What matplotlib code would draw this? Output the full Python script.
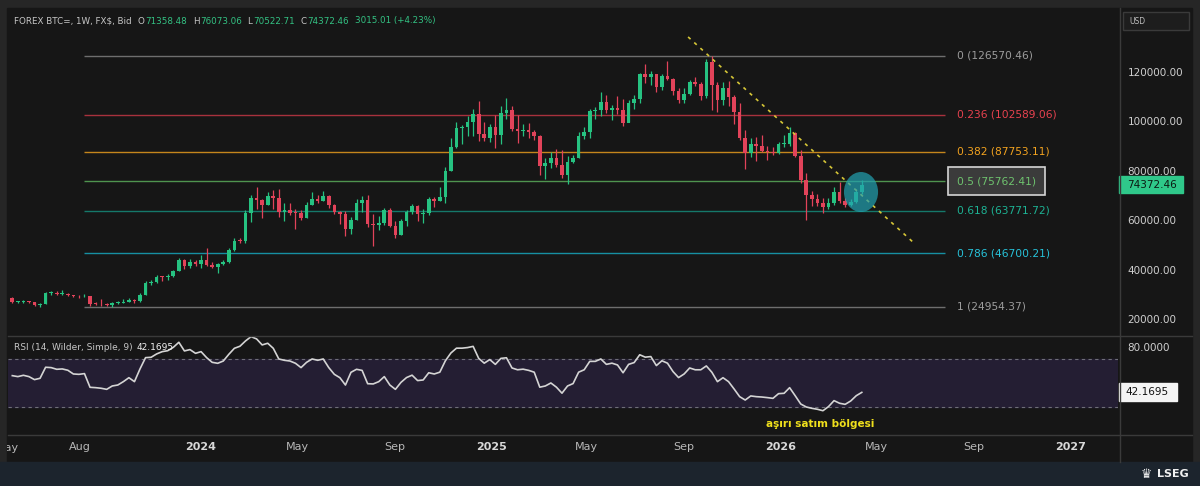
import matplotlib
matplotlib.use("Agg")
import matplotlib.pyplot as plt
import matplotlib.dates as mdates
import matplotlib.transforms as mtransforms
import numpy as np
import pandas as pd
from matplotlib.lines import Line2D
from matplotlib.patches import Ellipse, Rectangle

W, H = 1200, 486

# weekly BTC candles, values in thousand USD
first_week = "2023-05-08"
first_open = 28.5
closes = [
    26.8, 26.9, 27.2, 26.9, 25.7, 26.2, 30.5, 30.6, 30.3, 30.3,
    29.9, 29.3, 29.1, 29.4, 26.1, 26.0, 25.9, 25.8, 26.5, 26.5,
    27.0, 27.8, 27.1, 29.8, 34.5, 35.0, 37.1, 37.0, 37.5, 39.5,
    43.9, 41.3, 43.2, 42.3, 44.0, 41.7, 41.2, 42.1, 43.0, 48.0,
    51.6, 51.5, 62.8, 68.9, 68.3, 66.0, 69.8, 69.0, 63.5, 64.0,
    63.1, 63.0, 61.0, 66.3, 68.6, 67.7, 69.6, 66.3, 63.3, 62.3,
    56.5, 60.0, 67.1, 68.3, 58.4, 58.2, 59.0, 64.1, 57.7, 54.2,
    59.8, 63.3, 65.7, 62.6, 63.0, 68.5, 67.9, 69.2, 80.0, 89.5,
    97.5, 97.8, 99.8, 102.8, 95.0, 93.3, 97.9, 94.5, 103.4, 104.6,
    97.0, 96.0, 96.6, 95.7, 94.0, 82.0, 83.0, 85.0, 82.3, 78.3,
    83.6, 85.2, 94.0, 95.6, 104.3, 104.5, 107.8, 104.5, 105.6, 104.8,
    99.5, 107.5, 108.9, 119.0, 117.8, 119.0, 114.0, 118.3, 117.3, 112.3,
    108.7, 111.2, 116.0, 115.3, 110.3, 124.2, 114.7, 108.6, 113.4, 109.8,
    104.0, 93.3, 87.1, 90.8, 89.9, 88.0, 87.6, 87.2, 90.8, 91.0,
    95.2, 86.1, 76.3, 70.2, 68.6, 66.8, 65.5, 67.1, 71.5, 67.9,
    66.2, 67.5, 71.35848, 74.37246,
]
highs = [
    28.9, 27.4, 27.6, 27.4, 27.0, 26.6, 31.0, 31.3, 31.5, 31.8,
    30.4, 29.9, 29.7, 30.2, 29.5, 26.8, 28.1, 26.4, 27.0, 27.4,
    28.0, 28.6, 28.0, 30.6, 35.2, 35.9, 38.0, 37.6, 38.3, 40.0,
    44.7, 44.1, 44.3, 43.8, 45.9, 48.9, 43.2, 42.8, 43.8, 48.6,
    52.8, 52.9, 64.0, 70.2, 73.6, 68.6, 71.5, 72.2, 72.5, 66.9,
    67.0, 64.6, 64.3, 67.4, 71.5, 70.0, 72.0, 70.2, 66.5, 63.8,
    63.8, 61.3, 68.4, 69.9, 70.0, 62.7, 61.7, 65.0, 64.9, 59.8,
    60.6, 64.1, 66.5, 66.0, 64.5, 69.4, 69.5, 73.5, 81.5, 93.4,
    99.6, 98.7, 102.0, 105.0, 108.2, 99.6, 99.0, 102.7, 106.3, 109.3,
    106.3, 102.5, 98.8, 99.5, 96.5, 94.5, 85.2, 87.5, 88.8, 88.5,
    86.0, 86.4, 95.7, 97.9, 104.9, 105.8, 111.7, 110.7, 106.8, 110.3,
    108.9, 108.5, 110.5, 119.5, 123.2, 120.2, 119.3, 119.3, 124.3, 117.5,
    113.4, 113.4, 116.8, 117.9, 115.8, 125.2, 126.57046, 115.9, 116.0, 116.2,
    110.5, 107.4, 96.6, 93.1, 93.8, 94.5, 90.0, 89.5, 91.5, 94.5,
    97.6, 95.6, 88.5, 79.3, 72.0, 70.5, 68.9, 69.0, 73.5, 75.5,
    68.8, 68.5, 72.5, 76.07306,
]
lows = [
    26.4, 26.3, 26.3, 26.6, 25.4, 24.8, 26.2, 29.7, 29.8, 29.9,
    29.5, 28.9, 28.6, 28.7, 25.2, 25.8, 25.4, 25.4, 24.95437, 26.2,
    26.4, 26.8, 26.6, 26.9, 29.8, 33.9, 34.5, 35.4, 35.8, 37.1,
    39.5, 40.3, 40.6, 41.6, 40.8, 41.5, 40.6, 38.5, 41.8, 42.5,
    47.7, 50.6, 50.9, 59.1, 64.6, 60.8, 66.0, 64.5, 61.2, 59.6,
    62.0, 56.5, 60.2, 60.7, 66.1, 67.1, 67.6, 65.0, 62.3, 58.5,
    53.5, 54.3, 59.9, 63.5, 57.2, 49.5, 56.2, 58.0, 57.2, 52.6,
    54.0, 57.5, 62.7, 59.8, 58.9, 62.0, 65.3, 67.7, 66.9, 79.8,
    89.4, 90.8, 94.0, 94.2, 92.2, 92.0, 91.5, 89.3, 91.0, 101.0,
    96.2, 91.2, 94.1, 93.4, 92.5, 78.3, 76.6, 81.2, 81.6, 77.1,
    74.5, 83.2, 85.0, 92.8, 93.4, 100.8, 102.0, 103.2, 100.4, 102.8,
    98.2, 99.6, 105.1, 107.5, 115.7, 114.7, 112.0, 112.7, 116.8, 110.8,
    107.3, 107.3, 110.6, 114.4, 108.6, 109.5, 104.6, 103.6, 106.6, 106.2,
    99.0, 92.5, 80.6, 85.5, 83.8, 87.5, 84.5, 86.5, 86.8, 89.5,
    90.0, 85.5, 75.0, 60.1, 65.8, 65.8, 62.8, 64.5, 66.0, 67.0,
    65.5, 65.9, 67.0, 70.52271,
]

# RSI(14) per week
rsi = [
    56.1, 55.3, 56.4, 55.3, 52.8, 53.9, 63.1, 62.8, 61.4, 61.7,
    60.6, 57.5, 57.2, 57.8, 46.4, 46.1, 45.6, 44.7, 47.5, 48.3,
    51.1, 54.4, 51.1, 61.7, 71.1, 71.4, 74.2, 76.1, 76.9, 79.7,
    83.9, 76.7, 77.8, 74.7, 76.1, 71.1, 67.2, 66.4, 68.3, 73.9,
    78.9, 80.6, 85.0, 88.6, 86.7, 81.7, 83.1, 78.9, 70.0, 68.9,
    68.3, 66.4, 62.8, 67.2, 70.0, 68.9, 70.0, 62.8, 57.2, 54.4,
    48.3, 58.9, 61.4, 60.5, 49.4, 49.2, 51.1, 55.3, 48.3, 44.7,
    50.5, 54.5, 56.5, 52.0, 52.5, 58.5, 57.5, 59.0, 68.5, 75.0,
    79.0, 79.0, 79.5, 80.5, 70.5, 66.5, 69.5, 65.5, 70.5, 71.0,
    62.5, 61.0, 61.5, 60.5, 59.0, 46.5, 47.5, 50.0, 46.5, 41.5,
    47.5, 49.5, 59.0, 61.0, 68.0, 68.0, 70.0, 65.5, 66.5, 65.0,
    58.5, 65.5, 67.0, 73.5, 71.5, 72.0, 64.5, 68.5, 66.5, 59.5,
    54.5, 57.5, 62.5, 61.0, 61.0, 64.2, 58.9, 51.1, 54.4, 51.1,
    45.0, 38.6, 35.8, 39.2, 38.6, 38.3, 37.8, 37.2, 41.1, 41.4,
    46.1, 39.4, 32.5, 30.0, 28.9, 28.1, 26.9, 30.3, 35.3, 33.1,
    32.2, 35.0, 39.4, 42.1695,
]
rsi_last = 42.1695
last_close = 74372.46

fib_names = ["0", "0.236", "0.382", "0.5", "0.618", "0.786", "1"]
fib_prices = [126570.46, 102589.06, 87753.11, 75762.41, 63771.72, 46700.21, 24954.37]
fib_line_colors = ["#6e6e6e", "#a8313d", "#c4861c", "#4f944f", "#15786a", "#168fa2", "#6e6e6e"]
fib_text_colors = ["#9c9c9c", "#e8424f", "#f3a31f", "#6fc46f", "#1db394", "#27c3da", "#9c9c9c"]
fib_start, fib_end, fib_label_at = "2023-08-07", "2026-07-27", "2026-08-11"

trend_dates = ["2025-09-06", "2026-06-19"]
trend_prices = [134200, 50400]

circle_date, circle_price = "2026-04-12", 71400

tick_dates = ["2023-08-01", "2024-01-01", "2024-05-01", "2024-09-01", "2025-01-01",
              "2025-05-01", "2025-09-01", "2026-01-01", "2026-05-01", "2026-09-01",
              "2027-01-01"]
tick_labels = ["Aug", "2024", "May", "Sep", "2025", "May", "Sep", "2026", "May", "Sep", "2027"]
price_ticks = [20000, 40000, 60000, 80000, 100000, 120000]

header = "FOREX BTC=, 1W, FX$, Bid"
ohlc_keys = ["O", "H", "L", "C"]
ohlc_vals = ["71358.48", "76073.06", "70522.71", "74372.46"]
change_txt = "3015.01 (+4.23%)"

BG = "#161616"
FRAME = "#262626"
UP = "#26c281"
DOWN = "#e2435a"
GRID = "#3a3a3a"
LABEL = "#c6c6c6"
VALUE = "#33c283"


def fx(x):
    return x / W


def fy(y):
    return 1 - y / H


weeks = pd.date_range(first_week, periods=len(closes), freq="7D")
x = mdates.date2num(weeks)
c = np.array(closes) * 1000
h = np.array(highs) * 1000
l = np.array(lows) * 1000
o = np.r_[first_open * 1000, c[:-1]]
col = np.where(c >= o, UP, DOWN)

fig = plt.figure(figsize=(12, 4.86), dpi=100, facecolor=FRAME)
fig.patches.append(Rectangle((fx(7), fy(462)), fx(1192) - fx(7), fy(8) - fy(462),
                             transform=fig.transFigure, color=BG, zorder=-10))
fig.patches.append(Rectangle((0, 0), 1, fy(462), transform=fig.transFigure,
                             color="#1c242d", zorder=-10))

ax = fig.add_axes([fx(8), fy(335), fx(1118) - fx(8), fy(10) - fy(335)])
axr = fig.add_axes([fx(8), fy(434), fx(1118) - fx(8), fy(337) - fy(434)], sharex=ax)
for a in (ax, axr):
    a.set_facecolor("none")
    for s in a.spines.values():
        s.set_visible(False)

# candles
ax.vlines(x, l, h, colors=col, lw=0.9, zorder=3)
ax.bar(x, np.maximum(np.abs(c - o), 300), bottom=np.minimum(o, c), width=4.6,
       color=col, linewidth=0, zorder=4)

# fibonacci retracement
xs, xe, xl = mdates.date2num(pd.to_datetime([fib_start, fib_end, fib_label_at]))
for name, p, lc, tc in zip(fib_names, fib_prices, fib_line_colors, fib_text_colors):
    ax.hlines(p, xs, xe, color=lc, lw=1, zorder=2)
    t = ax.text(xl, p, f"{name} ({p:.2f})", color=tc, fontsize=7.7, va="center", ha="left")
    if name == "0.5":
        t.set_bbox(dict(boxstyle="square,pad=0.85", fc="#3b3b3b", ec="#d5d5d5", lw=1.2))

# falling trendline
ax.plot(mdates.date2num(pd.to_datetime(trend_dates)), trend_prices, color="#d6c637",
        lw=1.2, ls=(0, (2, 3)), zorder=5)

# highlight circle
cx = mdates.date2num(pd.Timestamp(circle_date))
ax.add_patch(Ellipse((cx, circle_price), width=43, height=16200, fc="#22a2b2",
                     ec="none", alpha=0.7, zorder=6))

ax.set_xlim(mdates.date2num(pd.Timestamp("2023-05-02 14:00")),
            mdates.date2num(pd.Timestamp("2027-03-02")))
ax.set_ylim(13510, 145100)
ax.yaxis.tick_right()
ax.set_yticks(price_ticks)
ax.yaxis.set_major_formatter(matplotlib.ticker.StrMethodFormatter("{x:.2f}"))
ax.tick_params(axis="y", length=0, pad=7, labelsize=7.5, labelcolor="#cfcfcf")
ax.tick_params(axis="x", length=0, labelbottom=False)

# last price tag
blend = mtransforms.blended_transform_factory(fig.transFigure, ax.transData)
ax.add_patch(Rectangle((fx(1119), last_close - 3400), 64 / W, 6800, transform=blend,
                       color="#2fc88a", clip_on=False, zorder=10))
ax.text(fx(1127), last_close, f"{last_close:.2f}", transform=blend, color="#0c1a12",
        fontsize=7.5, va="center", ha="left", zorder=11)

# RSI panel
axr.axhspan(30, 70, color="#241e33", zorder=0)
for lvl in (30, 70):
    axr.axhline(lvl, color="#6e6e78", lw=0.8, ls=(0, (3, 3)), zorder=1)
axr.plot(x, rsi, color="#d4d4d4", lw=1.2, zorder=3)
axr.set_ylim(7.5, 88.3)
axr.yaxis.tick_right()
axr.set_yticks([80])
axr.yaxis.set_major_formatter(matplotlib.ticker.StrMethodFormatter("{x:.4f}"))
axr.tick_params(axis="y", length=0, pad=7, labelsize=7.5, labelcolor="#cfcfcf")

blend_r = mtransforms.blended_transform_factory(fig.transFigure, axr.transData)
axr.add_patch(Rectangle((fx(1119), rsi_last - 7.5), 58 / W, 15, transform=blend_r,
                        color="#f4f4f4", clip_on=False, zorder=10))
axr.text(fx(1125), rsi_last, f"{rsi_last:.4f}", transform=blend_r, color="#111111",
         fontsize=7.5, va="center", ha="left", zorder=11)

axr.set_xticks(mdates.date2num(pd.to_datetime(tick_dates)))
axr.set_xticklabels(tick_labels)
axr.tick_params(axis="x", length=0, pad=6, labelsize=8, labelcolor="#b8b8b8")
for lbl in axr.get_xticklabels():
    if lbl.get_text().isdigit():
        lbl.set_fontweight("bold")
        lbl.set_color("#d8d8d8")

# May 2023, cut by the left edge as in the source chart
t = fig.text(fx(7), fy(448), "May", ha="center", va="center", fontsize=8, color="#b8b8b8")
t.set_clip_box(mtransforms.TransformedBbox(mtransforms.Bbox([[fx(7), 0], [1, 1]]),
                                           fig.transFigure))
t.set_clip_on(True)

# separators
for xs_, ys_ in [([fx(1119.5)] * 2, [fy(8), fy(462)]),
                 ([fx(8), fx(1192)], [fy(336), fy(336)]),
                 ([fx(8), fx(1192)], [fy(434.5), fy(434.5)])]:
    fig.add_artist(Line2D(xs_, ys_, transform=fig.transFigure, color=GRID, lw=1))

# header line, laid out piece by piece
renderer = fig.canvas.get_renderer()
pieces = [(header, LABEL, 6)]
for k, v in zip(ohlc_keys, ohlc_vals):
    pieces += [(k, LABEL, 0.5), (v, VALUE, 6)]
pieces.append((change_txt, VALUE, 0))
cur = 14
for txt, color, gap in pieces:
    t = fig.text(fx(cur), fy(21), txt, fontsize=6.3, color=color, va="center")
    cur += t.get_window_extent(renderer).width + gap

# RSI caption
fig.text(fx(14), fy(347), "RSI (14, Wilder, Simple, 9)", fontsize=6.5, color=LABEL,
         va="center")
fig.text(fx(137), fy(347), f"{rsi_last:.4f}", fontsize=6.5, color="#f2f2f2", va="center")

fig.text(fx(820), fy(424), "aşırı satım bölgesi", fontsize=7.5, color="#f0e01c",
         fontweight="bold", ha="center", va="center")

# USD box
fig.patches.append(Rectangle((fx(1123), fy(30)), 66 / W, 18 / H, transform=fig.transFigure,
                             fc="#1d1d1d", ec="#3a3a3a", lw=1))
fig.text(fx(1129), fy(21), "USD", fontsize=5.5, color="#bdbdbd", va="center")

# LSEG mark
fig.text(fx(1146), fy(474), "\u265b", fontsize=9, color="#f0f0f0", va="center", ha="center")
fig.text(fx(1157), fy(474), "LSEG", fontsize=8, color="#f0f0f0", va="center",
         fontweight="bold")

fig.savefig("out.png", dpi=100, facecolor=fig.get_facecolor())
